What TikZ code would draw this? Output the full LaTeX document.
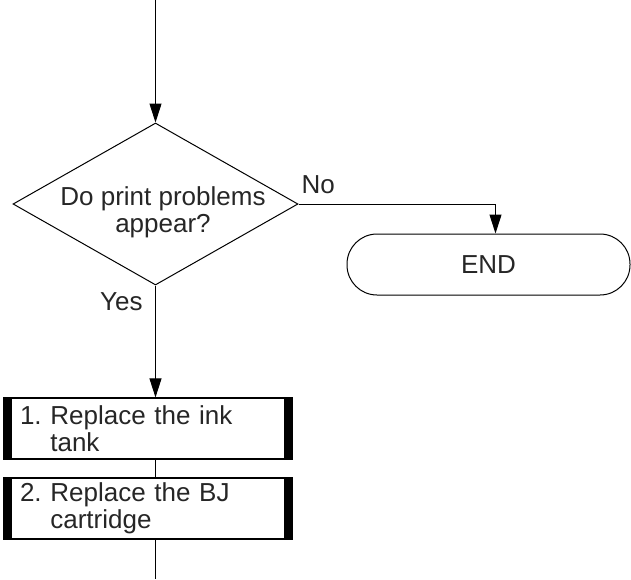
\documentclass[tikz,border=0pt]{standalone}
\usepackage{fontspec}
\setmainfont{Liberation Sans}
\usetikzlibrary{arrows.meta,shapes.geometric}

\begin{document}
\begin{tikzpicture}[x=1pt,y=-1pt,line width=1pt,>={Triangle[length=19pt,width=12pt]},
  txt/.style={font=\fontsize{26}{27}\selectfont\frenchspacing,text=black!85},
  stepbox/.style={draw,line width=1.2pt,minimum width=288pt,minimum height=61pt,
    text width=256pt,inner xsep=16pt,inner ysep=0pt,align=left,txt,
    path picture={\fill (path picture bounding box.north west) rectangle ([xshift=8pt]path picture bounding box.south west);
      \fill (path picture bounding box.north east) rectangle ([xshift=-8pt]path picture bounding box.south east);}}]
\useasboundingbox (0,0) rectangle (631,579);
% decision
\coordinate (top) at (155.5,0);
\node[draw,diamond,minimum width=285pt,minimum height=162pt,inner sep=0pt] (ask) at (155.5,204) {};
\node[txt,align=center] (asktxt) at (163,212) {Do print problems\\appear?};
\node[txt,anchor=base west,inner sep=0pt] (no) at (301,193) {No};
\node[txt,anchor=base east,inner sep=0pt] (yes) at (143,310) {Yes};
% end
\node[draw,rounded corners=30pt,minimum width=283pt,minimum height=61pt,txt] (fin) at (488.5,264.5) {END};
% steps
\node[stepbox] (s1) at (148,428.5) {1. Replace the ink\\\phantom{1. }tank};
\node[stepbox] (s2) at (148,508.5) {2. Replace the BJ\\\phantom{2. }cartridge};
\coordinate (bot) at (155.5,579);
% connectors
\draw[->] (top) -- (ask.north);
\draw[->] (ask.east) -| ([xshift=7pt]fin.north);
\draw[->] (ask.south) -- (ask.south |- s1.north);
\draw (ask.south |- s1.south) -- (ask.south |- s2.north);
\draw (ask.south |- s2.south) -- (bot);
\end{tikzpicture}
\end{document}
